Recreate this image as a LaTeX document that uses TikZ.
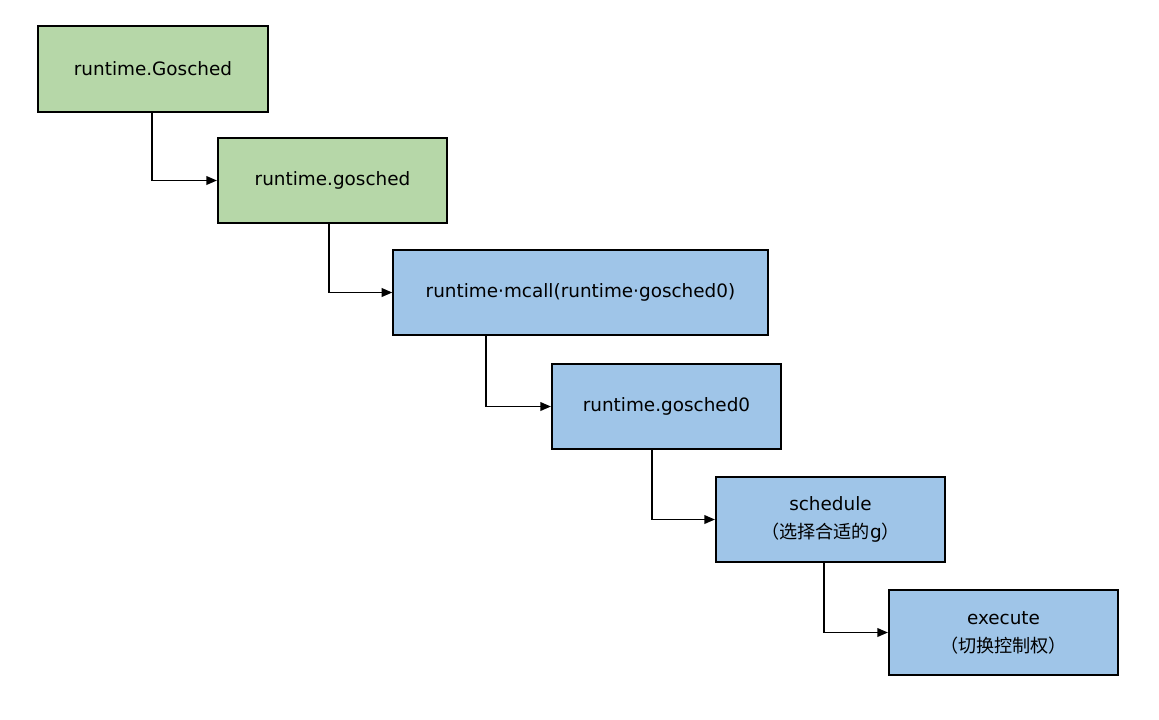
\documentclass[tikz,border=0pt]{standalone}
\usepackage{fontspec}
\setmainfont{DejaVu Sans}
\newfontfamily\cjk{Noto Sans CJK SC}
\usetikzlibrary{arrows.meta}
\definecolor{boxgreen}{HTML}{B6D7A8}
\definecolor{boxblue}{HTML}{9FC5E8}
\begin{document}
\begin{tikzpicture}[x=0.75pt,y=-0.75pt,
  box/.style={draw=black, line width=1.3pt, minimum height=64pt, minimum width=172pt,
    inner sep=0pt, align=center, font=\fontsize{13.8}{21}\selectfont},
  greenbox/.style={box, fill=boxgreen},
  bluebox/.style={box, fill=boxblue},
  cjktext/.style={},
  conn/.style={draw=black, line width=1.3pt, -{Triangle[length=8pt,width=6.5pt]}}]
\useasboundingbox (0,0) rectangle (1159,719);
\node[greenbox] (b1) at (153,69) {runtime.Gosched};
\node[greenbox] (b2) at (332.5,180.5) {runtime.gosched};
\node[bluebox, minimum width=281pt] (b3) at (580.5,292.5) {runtime·mcall(runtime·gosched0)};
\node[bluebox] (b4) at (666.5,406.5) {runtime.gosched0};
\node[bluebox] (b5) at (830.5,519.5) {schedule\\{\cjk\fontsize{13.6}{21}\selectfont （选择合适的}g{\cjk\fontsize{13.6}{21}\selectfont ）}};
\node[bluebox] (b6) at (1003.5,632.5) {execute\\{\cjk\fontsize{13.6}{21}\selectfont （切换控制权）}};
\coordinate (c1) at (152,0);
\coordinate (c2) at (329,0);
\coordinate (c3) at (486,0);
\coordinate (c4) at (652,0);
\coordinate (c5) at (824,0);
\draw[conn] (b1.south -| c1) |- (b2.west);
\draw[conn] (b2.south -| c2) |- (b3.west);
\draw[conn] (b3.south -| c3) |- (b4.west);
\draw[conn] (b4.south -| c4) |- (b5.west);
\draw[conn] (b5.south -| c5) |- (b6.west);
\end{tikzpicture}
\end{document}
